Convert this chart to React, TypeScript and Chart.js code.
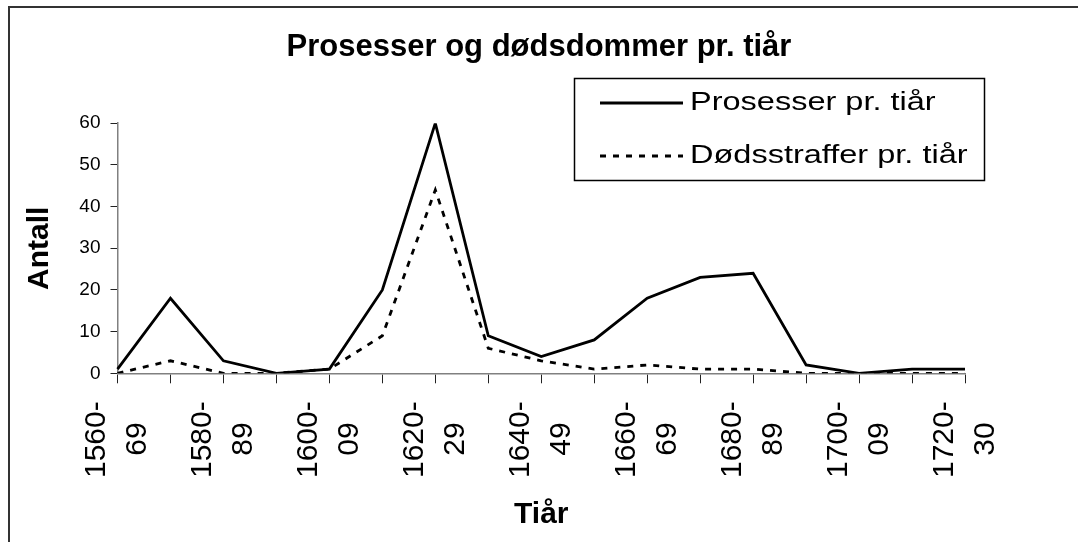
import { useEffect, useRef } from "react";
import { Chart, registerables } from "chart.js";

Chart.register(...registerables);

const FONT = '"Liberation Sans", Arial, sans-serif';

const categories = [
  "1560-69", "1570-79", "1580-89", "1590-99", "1600-09", "1610-19",
  "1620-29", "1630-39", "1640-49", "1650-59", "1660-69", "1670-79",
  "1680-89", "1690-99", "1700-09", "1710-19", "1720-30",
];
const prosesser = [1, 18, 3, 0, 1, 20, 60, 9, 4, 8, 18, 23, 24, 2, 0, 1, 1];
const dodsstraffer = [0, 3, 0, 0, 1, 9, 44, 6, 3, 1, 2, 1, 1, 0, 0, 0, 0];
const seriesNames = ["Prosesser pr. tiår", "Dødsstraffer pr. tiår"];
const yMin = 0;
const yMax = 60;
const yStep = 10;

const TITLE = "Prosesser og dødsdommer pr. tiår";
const X_TITLE = "Tiår";
const Y_TITLE = "Antall";

// pad the second (shorter) line so the two rotated lines are centred on each other
const PAD = "\u2002\u2009";

const boxLegend = {
  id: "boxLegend",
  afterDraw(chart: any) {
    const ctx = chart.ctx as CanvasRenderingContext2D;
    const x0 = 574, y0 = 78, w = 410, h = 102;
    ctx.save();
    ctx.fillStyle = "#fff";
    ctx.fillRect(x0, y0, w, h);
    ctx.strokeStyle = "#000";
    ctx.lineWidth = 1.5;
    ctx.strokeRect(x0 + 0.5, y0 + 0.5, w, h);
    chart.data.datasets.forEach((ds: any, i: number) => {
      const y = 103 + i * 53;
      ctx.beginPath();
      ctx.setLineDash(ds.borderDash || []);
      ctx.lineWidth = ds.borderWidth;
      ctx.strokeStyle = ds.borderColor;
      ctx.moveTo(600, y);
      ctx.lineTo(683, y);
      ctx.stroke();
      ctx.setLineDash([]);
      ctx.save();
      ctx.translate(690, y);
      ctx.scale(1.3, 1);
      ctx.fillStyle = "#000";
      ctx.font = `25px ${FONT}`;
      ctx.textBaseline = "middle";
      ctx.textAlign = "left";
      ctx.fillText(ds.label, 0, 0);
      ctx.restore();
    });
    ctx.restore();
  },
};

export default function App() {
  const ref = useRef<HTMLCanvasElement | null>(null);

  useEffect(() => {
    if (!ref.current) return;
    const chart = new Chart(ref.current, {
      type: "line",
      data: {
        labels: categories,
        datasets: [
          {
            label: seriesNames[0],
            data: prosesser,
            borderColor: "#000",
            borderWidth: 2.8,
            pointRadius: 0,
            tension: 0,
            fill: false,
          },
          {
            label: seriesNames[1],
            data: dodsstraffer,
            borderColor: "#000",
            borderWidth: 2.8,
            borderDash: [6, 7],
            pointRadius: 0,
            tension: 0,
            fill: false,
          },
        ],
      },
      options: {
        animation: false,
        responsive: false,
        maintainAspectRatio: false,
        layout: { padding: 0 },
        plugins: {
          legend: { display: false },
          tooltip: { enabled: false },
          title: {
            display: true,
            text: TITLE,
            color: "#000",
            font: { family: FONT, size: 31, weight: "bold", lineHeight: 1.2 },
            padding: { top: 29, bottom: 57 },
          },
        },
        scales: {
          x: {
            type: "category",
            offset: false,
            grid: {
              display: true,
              drawOnChartArea: false,
              drawTicks: true,
              tickLength: 10,
              color: "#222",
              lineWidth: 1,
            },
            border: { display: true, color: "#808080", width: 1.5 },
            ticks: {
              autoSkip: false,
              maxRotation: 90,
              minRotation: 90,
              color: "#000",
              padding: 18,
              labelOffset: -20.7,
              font: { family: FONT, size: 30, lineHeight: 1.38 },
              callback: (_v: any, i: number) => {
                if (i % 2 !== 0) return "";
                const [a, b] = categories[i].split("-");
                return [a + "-", b + PAD];
              },
            },
            title: {
              display: true,
              text: X_TITLE,
              color: "#000",
              font: { family: FONT, size: 30, weight: "bold", lineHeight: 1.2 },
              padding: { top: 0, bottom: 9 },
            },
            afterFit: (s: any) => {
              s.height = 168.7;
            },
          },
          y: {
            min: yMin,
            max: yMax,
            grid: {
              display: true,
              drawOnChartArea: false,
              drawTicks: true,
              tickLength: 7,
              color: "#222",
              lineWidth: 1,
            },
            border: { display: true, color: "#808080", width: 1.5 },
            ticks: {
              stepSize: yStep,
              color: "#000",
              padding: 10,
              font: { family: FONT, size: 19 },
            },
            title: {
              display: true,
              text: Y_TITLE,
              color: "#000",
              font: { family: FONT, size: 30, weight: "bold", lineHeight: 1.2 },
              padding: { top: 22, bottom: 0 },
            },
            afterFit: (s: any) => {
              s.width = 117.5;
            },
          },
          // empty right-hand spacer so the plot ends where the reference does
          spacer: {
            type: "linear",
            position: "right",
            display: true,
            grid: { display: false, drawTicks: false },
            border: { display: false },
            ticks: { display: false },
            title: { display: false },
            afterFit: (s: any) => {
              s.width = 113;
            },
          },
        },
      } as any,
      plugins: [boxLegend],
    });
    return () => chart.destroy();
  }, []);

  return (
    <div
      style={{
        position: "fixed",
        left: 0,
        top: 0,
        width: 1078,
        height: 542,
        overflow: "hidden",
        background: "#fff",
      }}
    >
      <div
        style={{
          position: "absolute",
          left: 8,
          top: 6,
          width: 1100,
          height: 600,
          border: "2px solid #333",
          boxSizing: "border-box",
        }}
      />
      <canvas
        ref={ref}
        width={1078}
        height={542}
        style={{ position: "absolute", left: 0, top: 0 }}
      />
    </div>
  );
}
